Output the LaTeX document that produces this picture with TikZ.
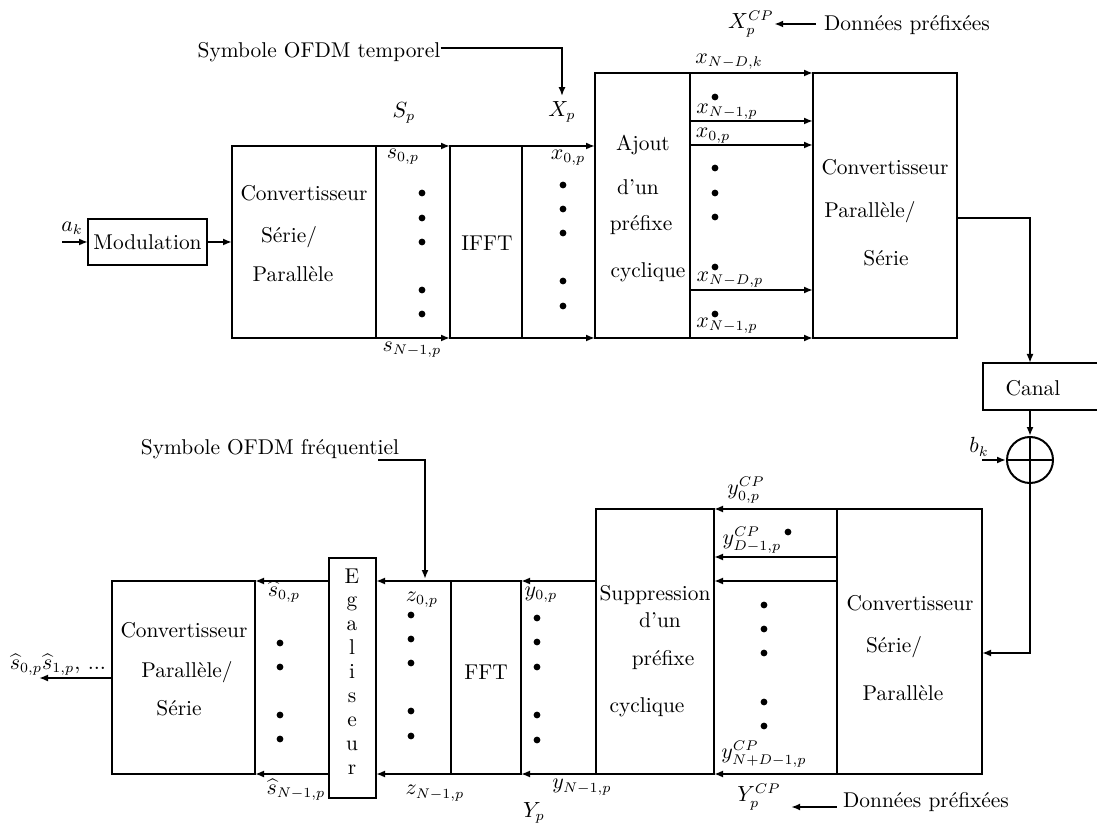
\documentclass[tikz,border=0pt]{standalone}
\usepackage{fontspec}
\usetikzlibrary{arrows.meta,calc}
\begin{document}
\begin{tikzpicture}[x=0.5pt,y=-0.5pt,
  blk/.style={draw,line width=1pt,inner sep=0pt,outer sep=0pt},
  txt/.style={inner sep=0pt,font=\fontsize{10.7}{13}\selectfont},
  arr/.style={line width=1pt,-{Latex[length=4.5pt,width=3.5pt]}},
  wire/.style={line width=1pt},
  dotm/.style={fill=black}]
\useasboundingbox (0,0) rectangle (1097,823);

% ---------- blocks ----------
\node[blk,txt,minimum width=59.5pt,minimum height=23pt] (mod) at (147.5,242) {Modulation};
\node[blk,minimum width=72pt,minimum height=96pt] (sp1) at (304,242) {};
\node[blk,minimum width=36pt,minimum height=96pt] (ifft) at (486,242) {};
\node[blk,minimum width=47.5pt,minimum height=132.5pt] (ajout) at (642.5,205.5) {};
\node[blk,minimum width=72pt,minimum height=132.5pt] (ps1) at (885,205.5) {};
\node[blk,minimum width=62pt,minimum height=23.5pt] (canal) at (1045,386.5) {};
\node[draw,line width=1pt,circle,minimum size=23pt,inner sep=0pt] (sum) at (1030,460) {};
\draw[wire] (sum.north) -- (sum.south) (sum.west) -- (sum.east);
\node[blk,minimum width=72.5pt,minimum height=132.5pt] (sp2) at (909.5,641.5) {};
\node[blk,minimum width=59pt,minimum height=132.5pt] (supp) at (655,641.5) {};
\node[blk,minimum width=35pt,minimum height=96.5pt] (fft) at (486,677.5) {};
\node[blk,minimum width=23.5pt,minimum height=120pt] (egal) at (352.5,678) {};
\node[blk,minimum width=71.5pt,minimum height=96.5pt] (ps2) at (183.5,677.5) {};

% ---------- texts in blocks ----------
\node[txt] (t1a) at (304,193) {Convertisseur};
\node[txt] (t1b) at (289,237) {Série/};
\node[txt] (t1c) at (293,274) {Parallèle};
\node[txt] (t2) at (487,243) {IFFT};
\node[txt] (t3a) at (643,145) {Ajout};
\node[txt] (t3b) at (638,187) {d'un};
\node[txt] (t3c) at (641,225) {préfixe};
\node[txt] (t3d) at (648,272) {cyclique};
\node[txt] (t4a) at (885,167) {Convertisseur};
\node[txt] (t4b) at (870,212) {Parallèle/};
\node[txt] (t4c) at (886,258) {Série};
\node[txt] (t5) at (1033,388) {Canal};
\node[txt] (t6a) at (910,603) {Convertisseur};
\node[txt] (t6b) at (894,647) {Série/};
\node[txt] (t6c) at (903,693) {Parallèle};
\node[txt] (t7a) at (655,595) {Suppression};
\node[txt] (t7b) at (660,620) {d'un};
\node[txt] (t7c) at (663,660) {préfixe};
\node[txt] (t7d) at (647,707) {cyclique};
\node[txt] (t8) at (486,672) {FFT};
\foreach \l [count=\i from 0] in {E,g,a,l,i,s,e,u,r}
  \node[txt,anchor=base] (eg\i) at (352,583+23.95*\i) {\l};
\node[txt] (t9a) at (184,630) {Convertisseur};
\node[txt] (t9b) at (187,672) {Parallèle/};
\node[txt] (t9c) at (179,708) {Série};

% ---------- top row connectors ----------
\coordinate (akin) at (62,242);
\draw[arr] (akin) -- (mod.west);
\node[txt] (ak) at (72,228) {$a_k$};
\draw[arr] (mod.east) -- (sp1.west);
\draw[arr] (sp1.north east) -- (ifft.north west);
\draw[arr] (sp1.south east) -- (ifft.south west);
\draw[arr] (ifft.north east) -- (ajout.west |- ifft.north);
\draw[arr] (ifft.south east) -- (ajout.south west);
\foreach \yy in {73,121,145,290,338}
  \draw[arr] (ajout.east |- 0,\yy) -- (ps1.west |- 0,\yy);

\node[txt] (symt) at (319,52) {Symbole OFDM temporel};
\node[txt] (Xp) at (562,112) {$X_p$};
\draw[arr] ([yshift=2pt]symt.east) -| ([yshift=2.5pt]Xp.north);
\node[txt] (Sp) at (404,113) {$S_p$};
\node[txt] (s0) at (403,157) {$s_{0,p}$};
\node[txt] (sN) at (412,350) {$s_{N-1,p}$};
\node[txt] (x0) at (568,158) {$x_{0,p}$};
\node[txt] (xNDk) at (729,62) {$x_{N-D,k}$};
\node[txt] (xN1a) at (727,112) {$x_{N-1,p}$};
\node[txt] (x0b) at (713,136) {$x_{0,p}$};
\node[txt] (xNDp) at (730,280) {$x_{N-D,p}$};
\node[txt] (xN1b) at (727,326) {$x_{N-1,p}$};

\node[txt] (dp1) at (907,25) {Données préfixées};
\node[txt] (XpCP) at (751,24) {$X_p^{CP}$};
\draw[arr] ([xshift=-4pt,yshift=0.5pt]dp1.west) -- (XpCP.east);

% ---------- channel ----------
\draw[arr] (ps1.east |- 0,218) -| (sum |- canal.north);
\draw[arr] (sum |- canal.south) -- (sum.north);
\coordinate (bkin) at (982,460);
\draw[arr] (bkin) -- (sum.west);
\node[txt] (bk) at (979,447) {$b_k$};
\draw[arr] (sum.south) |- (sp2.east |- 0,653);

% ---------- bottom row connectors ----------
\foreach \yy in {509,557,581,774}
  \draw[arr] (sp2.west |- 0,\yy) -- (supp.east |- 0,\yy);
\draw[arr] (supp.west |- fft.north) -- (fft.north east);
\draw[arr] (supp.west |- fft.south) -- (fft.south east);
\draw[arr] (fft.north west) -- (egal.east |- fft.north);
\draw[arr] (fft.south west) -- (egal.east |- fft.south);
\draw[arr] (egal.west |- ps2.north) -- (ps2.north east);
\draw[arr] (egal.west |- ps2.south) -- (ps2.south east);
\coordinate (out) at (39,678);
\draw[arr] (ps2.west |- out) -- (out);
\node[txt] (outl) at (58,665) {$\widehat{s}_{0,p}\widehat{s}_{1,p},\,...$};

\node[txt] (symf) at (270,449) {Symbole OFDM fréquentiel};
\coordinate (zin) at (425,579);
\draw[arr] ([xshift=-10.5pt,yshift=-5.5pt]symf.east) -| (zin);

\node[txt] (yCP0) at (746,490) {$y_{0,p}^{CP}$};
\node[txt] (yCPD) at (752,540) {$y_{D-1,p}^{CP}$};
\node[txt] (yCPN) at (764,754) {$y_{N+D-1,p}^{CP}$};
\node[txt] (YpCP) at (759,797) {$Y_p^{CP}$};
\node[txt] (dp2) at (926,802) {Données préfixées};
\draw[arr] ([xshift=-3pt,yshift=-2.5pt]dp2.west) -- ([xshift=5pt,yshift=-5pt]YpCP.east);

\node[txt] (y0) at (541,595) {$y_{0,p}$};
\node[txt] (yN) at (582,787) {$y_{N-1,p}$};
\node[txt] (Yp) at (534,813) {$Y_p$};
\node[txt] (z0) at (422,600) {$z_{0,p}$};
\node[txt] (zN) at (435,793) {$z_{N-1,p}$};
\node[txt] (sh0) at (284,592) {$\widehat{s}_{0,p}$};
\node[txt] (shN) at (296,790) {$\widehat{s}_{N-1,p}$};

% ---------- dots ----------
\foreach \yy in {193,218,242,290,314} \fill[dotm] (422,\yy) circle[radius=1.7pt];
\foreach \yy in {185,209,233,281,306} \fill[dotm] (563,\yy) circle[radius=1.7pt];
\foreach \yy in {97,168,193,217,267,314} \fill[dotm] (715,\yy) circle[radius=1.7pt];
\foreach \yy in {605,629,653,702,726} \fill[dotm] (764,\yy) circle[radius=1.7pt];
\fill[dotm] (788,532) circle[radius=1.7pt];
\foreach \yy in {618,642,667,715,740} \fill[dotm] (537,\yy) circle[radius=1.7pt];
\foreach \yy in {615,639,663,711,736} \fill[dotm] (411,\yy) circle[radius=1.7pt];
\foreach \yy in {643,667,715,739} \fill[dotm] (280,\yy) circle[radius=1.7pt];
\end{tikzpicture}
\end{document}
